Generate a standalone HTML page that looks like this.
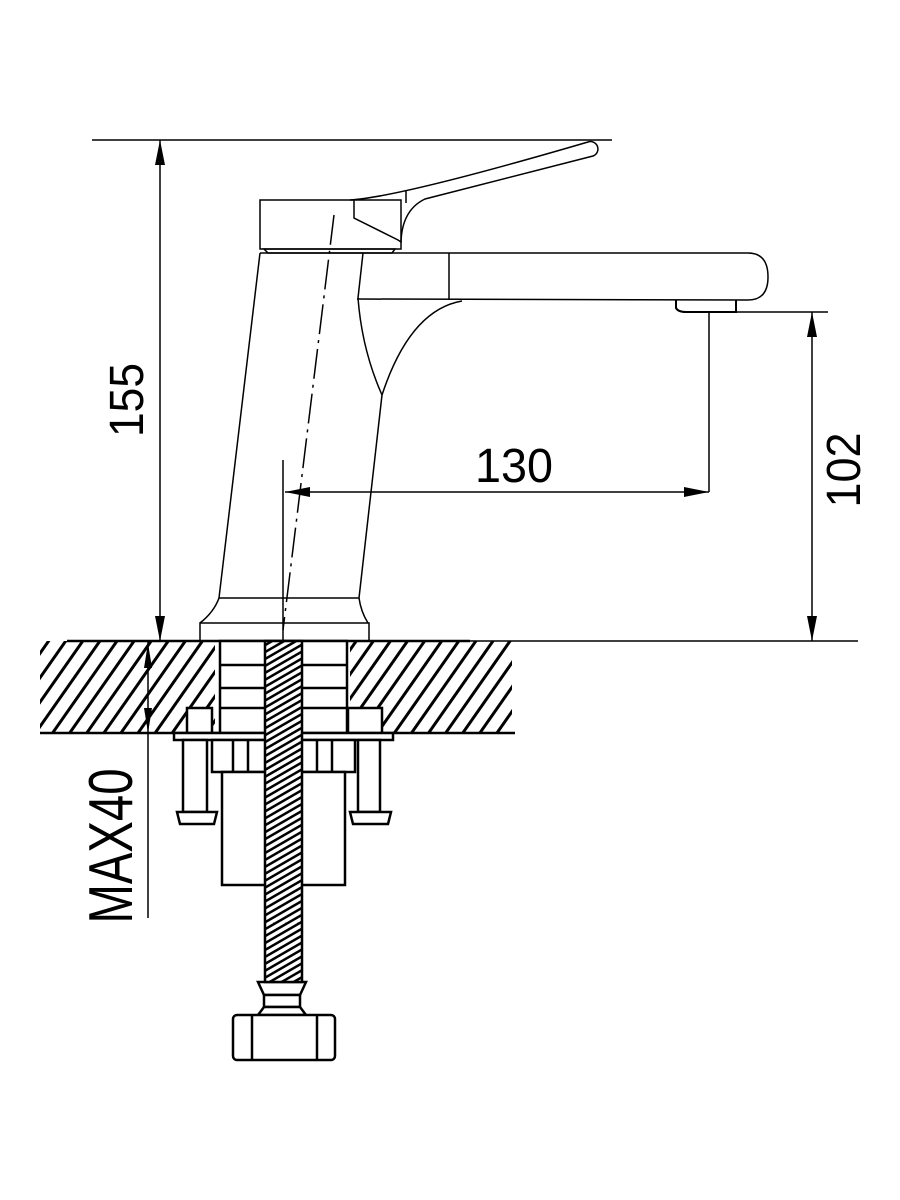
<!DOCTYPE html>
<html><head><meta charset="utf-8"><style>html,body{margin:0;padding:0;background:#fff}svg{display:block}</style></head>
<body>
<svg width="900" height="1200" viewBox="0 0 900 1200" xmlns="http://www.w3.org/2000/svg">
<defs>
<pattern id="h" patternUnits="userSpaceOnUse" width="14" height="14" patternTransform="rotate(35)">
<rect x="0" y="0" width="3" height="14" fill="#000"/>
</pattern>
<pattern id="t" patternUnits="userSpaceOnUse" width="6" height="6" patternTransform="rotate(60)">
<rect x="0" y="0" width="2.5" height="6" fill="#000"/>
</pattern>
</defs>
<g fill="none" stroke="#000" stroke-width="1.5">
<!-- top dim line -->
<line x1="92" y1="140" x2="612" y2="140"/>
<line x1="160" y1="140" x2="160" y2="641"/>
<!-- handle cap -->
<rect x="260" y="200" width="141" height="49"/>
<path d="M350,200 Q400,197 588,142 A7,7 0 0 1 593,156 L425,199 Q402,210 401,242 L398,240 L354,218 L354,200"/>
<line x1="406" y1="190" x2="406" y2="203"/>
<path d="M264,249 L395,249 L392,253 L268,253 Z"/>
<!-- body -->
<path d="M260,253 L219,598 Q214,612 200,623"/>
<path d="M363,253 L358,298 Q362,350 382,395 L359,598 Q361,612 368,623"/>
<line x1="219" y1="598" x2="359" y2="598"/>
<rect x="200" y="623" width="169" height="18"/>
<line x1="260" y1="253" x2="363" y2="253"/>
<!-- spout -->
<path d="M363,253 L748,253 Q768,253 768,277 Q768,300 748,300 L357,299"/>
<line x1="449" y1="253" x2="449" y2="300"/>
<path d="M462,301 Q410,310 382,395"/>
<path d="M676,300 L676,308 Q678,312 686,312 L736,312 L736,300" stroke-width="2"/>
<!-- dims -->
<line x1="709" y1="312" x2="828" y2="312"/>
<line x1="812" y1="312" x2="812" y2="641"/>
<line x1="709" y1="312" x2="709" y2="492"/>
<line x1="285" y1="492" x2="709" y2="492"/>
<line x1="283" y1="460" x2="283" y2="640"/>
<line x1="370" y1="641" x2="858" y2="641"/>
<line x1="334" y1="215" x2="283" y2="630" stroke-dasharray="30,6,3,6"/>
<line x1="148" y1="641" x2="148" y2="918"/>
</g>
<g fill="#000">
<path d="M160,140 L155,165 L165,165 Z"/>
<path d="M160,641 L155,616 L165,616 Z"/>
<path d="M812,312 L807,337 L817,337 Z"/>
<path d="M812,641 L807,616 L817,616 Z"/>
<path d="M285,492 L310,487 L310,497 Z"/>
<path d="M709,492 L684,487 L684,497 Z"/>
<path d="M148,643 L144,668 L152,668 Z"/>
<path d="M148,733 L144,708 L152,708 Z"/>
</g>
<!-- countertop hatch -->
<rect x="40" y="641" width="175" height="92" fill="url(#h)"/>
<rect x="350" y="641" width="162" height="92" fill="url(#h)"/>
<rect x="148" y="641" width="0" height="0"/>
<g fill="none" stroke="#000" stroke-width="2.5">
<line x1="40" y1="733" x2="515" y2="733"/>
<line x1="67" y1="641" x2="470" y2="641"/>
</g>
<g fill="#fff" stroke="#000" stroke-width="2.5">
<rect x="220" y="641" width="127" height="92"/>
<line x1="220" y1="665" x2="347" y2="665"/>
<line x1="220" y1="688" x2="347" y2="688"/>
<line x1="220" y1="708" x2="347" y2="708"/>
<rect x="187" y="708" width="25" height="25"/>
<rect x="348" y="708" width="34" height="25"/>
<rect x="174" y="733" width="219" height="7"/>
<rect x="212" y="740" width="143" height="32"/>
<line x1="233" y1="740" x2="233" y2="772"/><line x1="248" y1="740" x2="248" y2="772"/>
<line x1="317" y1="740" x2="317" y2="772"/><line x1="332" y1="740" x2="332" y2="772"/>
<rect x="183" y="740" width="24" height="72"/>
<rect x="358" y="740" width="22" height="72"/>
<path d="M177,812 L217,812 L214,824 L180,824 Z"/>
<path d="M350,812 L391,812 L388,824 L353,824 Z"/>
<rect x="222" y="772" width="123" height="113"/>
<path d="M258,982 L306,982 L300,995 L264,995 Z"/>
<path d="M264,995 L300,995 L300,1007 L264,1007 Z"/>
<path d="M264,1007 L300,1007 L306,1015 L258,1015 Z"/>
<rect x="233" y="1015" width="102" height="45" rx="4"/>
<line x1="252" y1="1015" x2="252" y2="1060"/><line x1="317" y1="1015" x2="317" y2="1060"/>
</g>
<rect x="265" y="641" width="37" height="341" fill="#fff" stroke="#000" stroke-width="2.5"/>
<rect x="266" y="642" width="35" height="339" fill="url(#t)"/>
<g font-family="Liberation Sans, sans-serif" fill="#000">
<text x="0" y="0" font-size="48" text-anchor="middle" textLength="74" lengthAdjust="spacingAndGlyphs" transform="translate(143,400) rotate(-90)">155</text>
<text x="514" y="482" font-size="48" text-anchor="middle" textLength="78" lengthAdjust="spacingAndGlyphs">130</text>
<text x="0" y="0" font-size="48" text-anchor="middle" textLength="75" lengthAdjust="spacingAndGlyphs" transform="translate(860,470) rotate(-90)">102</text>
<text x="0" y="0" font-size="62" text-anchor="middle" textLength="155" lengthAdjust="spacingAndGlyphs" transform="translate(132,846) rotate(-90)">MAX40</text>
</g>
</svg>
</body></html>
